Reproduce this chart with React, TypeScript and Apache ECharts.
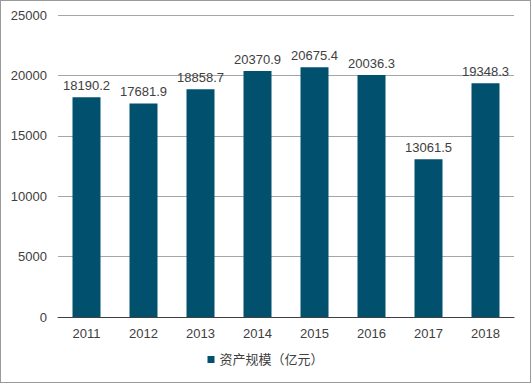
import React, { useEffect, useRef } from "react";
import * as echarts from "echarts";

const categories = ["2011", "2012", "2013", "2014", "2015", "2016", "2017", "2018"];
const assetValues = [18190.2, 17681.9, 18858.7, 20370.9, 20675.4, 20036.3, 13061.5, 19348.3];
const seriesName = "资产规模（亿元）";

export default function App() {
  const ref = useRef<HTMLDivElement>(null);
  useEffect(() => {
    if (!ref.current) return;
    const chart = echarts.init(ref.current, null, { renderer: "svg" });
    chart.setOption({
      animation: false,
      textStyle: { fontFamily: "Liberation Sans, Arial, sans-serif" },
      grid: { left: 57, right: 16, top: 14, bottom: 65 },
      legend: {
        bottom: 11,
        left: "center",
        icon: "rect",
        itemWidth: 7,
        itemHeight: 7,
        itemGap: 4,
        textStyle: { fontSize: 13, color: "#404040", fontFamily: "Liberation Sans, Noto Sans CJK SC, sans-serif" },
        data: [seriesName],
      },
      xAxis: {
        type: "category",
        data: categories,
        axisLine: { lineStyle: { color: "#404040", width: 1 } },
        axisTick: { show: false },
        axisLabel: { fontSize: 13, color: "#404040", margin: 10 },
      },
      yAxis: {
        type: "value",
        min: 0,
        max: 25000,
        interval: 5000,
        axisLine: { show: false },
        axisTick: { show: false },
        axisLabel: { fontSize: 13, color: "#404040", margin: 11, formatter: (v: number) => String(v) },
        splitLine: { lineStyle: { color: "#a6a6a6", width: 1 } },
      },
      series: [
        {
          name: seriesName,
          type: "bar",
          data: assetValues,
          barWidth: 28,
          itemStyle: { color: "#00506e" },
          label: {
            show: true,
            position: "top",
            distance: 5,
            fontSize: 13,
            color: "#404040",
            formatter: (p: any) => p.value.toFixed(1),
          },
        },
      ],
    });
    return () => chart.dispose();
  }, []);
  return (
    <div
      style={{
        position: "fixed",
        left: 0,
        top: 0,
        width: 529,
        height: 381,
        border: "1px solid #9a9a9a",
        background: "#fff",
      }}
    >
      <div ref={ref} style={{ width: 529, height: 381 }} />
    </div>
  );
}
